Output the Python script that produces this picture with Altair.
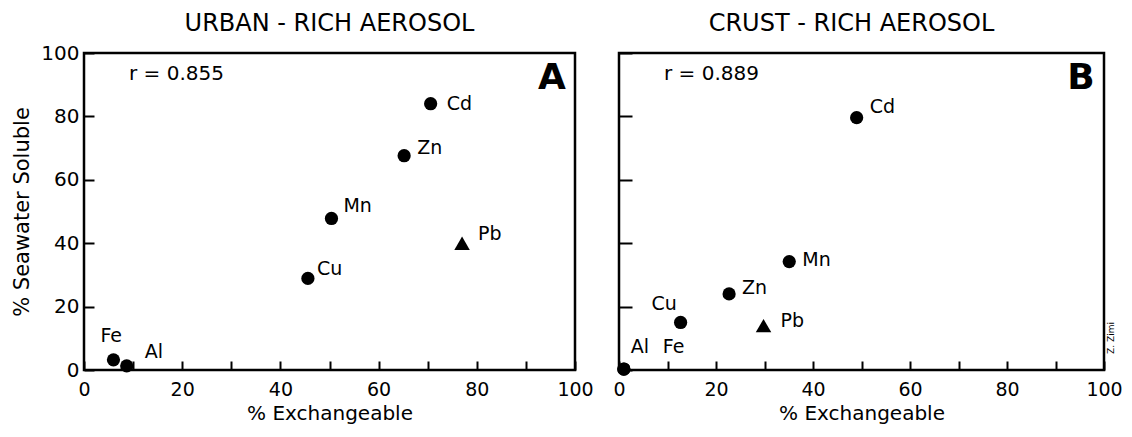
import altair as alt
import pandas as pd

# ---- data ----
A_ELEMENTS = ["Cd", "Zn", "Mn", "Pb", "Cu", "Fe", "Al"]
A_EXCHANGEABLE = [70.6, 65.2, 50.4, 77.0, 45.6, 6.0, 8.7]
A_SOLUBLE = [84.0, 67.6, 47.8, 40.0, 28.9, 3.2, 1.3]

B_ELEMENTS = ["Cd", "Mn", "Zn", "Cu", "Pb", "Al", "Fe"]
B_EXCHANGEABLE = [49.0, 35.1, 22.7, 12.7, 29.8, 1.0, 1.0]
B_SOLUBLE = [79.6, 34.2, 24.0, 15.0, 14.0, 0.3, 0.3]

TICK_VALUES = list(range(0, 101, 10))

A_TITLE = "URBAN - RICH AEROSOL"
B_TITLE = "CRUST - RICH AEROSOL"
A_R = "r = 0.855"
B_R = "r = 0.889"

# ---- label placement (pixel offsets from each point) ----
A_LABEL_OFFSETS = {"Cd": (16, 0), "Zn": (13, -8), "Mn": (12, -12), "Pb": (16, -9),
                   "Cu": (9, -9), "Fe": (-13, -24), "Al": (18, -14)}
B_LABEL_OFFSETS = {"Cd": (13, -11), "Mn": (13, -2), "Zn": (13, -6), "Cu": (-29, -18),
                   "Pb": (17, -5), "Al": (7, -22), "Fe": (39, -22)}

FONT = "DejaVu Sans"
H = 317


def panel(elements, exch, sol, offsets, title, title_shift, r_text, letter, width, show_y,
          signature=False):
    df = pd.DataFrame({"element": elements, "exch": exch, "sol": sol})
    df["kind"] = ["triangle" if e == "Pb" else "circle" for e in elements]

    lab_expr = "datum.value % 20 == 0 ? datum.label : ''"
    xaxis = alt.Axis(values=TICK_VALUES, labelExpr=lab_expr, tickSize=9, offset=-9,
                     domain=False, grid=False, tickColor="black", tickWidth=2,
                     labelFont=FONT, labelFontSize=19, labelColor="black",
                     labelPadding=10, labelFlush=False, labelOverlap=False,
                     title="% Exchangeable", titleFont=FONT, titleFontSize=20,
                     titleFontWeight="normal", titleColor="black", titlePadding=4)
    if show_y:
        yaxis = alt.Axis(values=TICK_VALUES, labelExpr=lab_expr, tickSize=10, offset=-10,
                         domain=False, grid=False, tickColor="black", tickWidth=2,
                         labelFont=FONT, labelFontSize=20, labelColor="black",
                         labelPadding=5, labelFlush=False, labelOverlap=False,
                         title="% Seawater Soluble", titleFont=FONT, titleFontSize=21,
                         titleFontWeight="normal", titleColor="black", titlePadding=8)
    else:
        yaxis = alt.Axis(values=TICK_VALUES, tickSize=13, offset=-13, domain=False,
                         grid=False, tickColor="black", tickWidth=2, labels=False,
                         title=None)

    xs = alt.Scale(domain=[0, 100], nice=False, zero=True)
    ys = alt.Scale(domain=[0, 100], nice=False, zero=True)
    base = alt.Chart(df)

    circles = base.transform_filter(alt.datum.kind == "circle").mark_point(
        filled=True, opacity=1, color="black", shape="circle", size=175
    ).encode(x=alt.X("exch:Q", scale=xs, axis=xaxis), y=alt.Y("sol:Q", scale=ys, axis=yaxis))

    tris = base.transform_filter(alt.datum.kind == "triangle").mark_point(
        filled=True, opacity=1, color="black", shape="triangle-up", size=240
    ).encode(x="exch:Q", y="sol:Q")

    layers = [circles, tris]
    for e in elements:
        dx, dy = offsets[e]
        layers.append(
            base.transform_filter(alt.datum.element == e).mark_text(
                align="left", baseline="middle", dx=dx, dy=dy, font=FONT,
                fontSize=19, color="black"
            ).encode(x="exch:Q", y="sol:Q", text="element:N")
        )

    ttl = pd.DataFrame({"t": [title]})
    layers.append(alt.Chart(ttl).mark_text(
        align="center", baseline="middle", font=FONT, fontSize=24, color="black"
    ).encode(x=alt.value(width / 2 + title_shift), y=alt.value(-29), text="t:N"))

    ann = pd.DataFrame({"t": [r_text]})
    layers.append(alt.Chart(ann).mark_text(
        align="left", baseline="middle", font=FONT, fontSize=20, color="black"
    ).encode(x=alt.value(45), y=alt.value(21), text="t:N"))

    let = pd.DataFrame({"t": [letter]})
    layers.append(alt.Chart(let).mark_text(
        align="center", baseline="middle", font=FONT, fontSize=36, fontWeight="bold",
        color="black"
    ).encode(x=alt.value(width - 23), y=alt.value(25), text="t:N"))

    if signature:
        sig = pd.DataFrame({"t": ["Z. Zimi"]})
        layers.append(alt.Chart(sig).mark_text(
            align="center", baseline="middle", font=FONT, fontSize=9, angle=270,
            color="black"
        ).encode(x=alt.value(width + 7), y=alt.value(285), text="t:N"))

    return alt.layer(*layers).properties(width=width, height=H)


a = panel(A_ELEMENTS, A_EXCHANGEABLE, A_SOLUBLE, A_LABEL_OFFSETS, A_TITLE, 0, A_R, "A",
          491, True)
b = panel(B_ELEMENTS, B_EXCHANGEABLE, B_SOLUBLE, B_LABEL_OFFSETS, B_TITLE, -10, B_R, "B",
          485, False, signature=True)

chart = alt.hconcat(
    a, b, spacing=44, bounds="flush", background="white",
    padding={"left": 2, "top": 2, "right": 0, "bottom": 0},
).configure_view(stroke="black", strokeWidth=2.5)

chart.save("out.html", embed_options={"renderer": "svg", "actions": False})
